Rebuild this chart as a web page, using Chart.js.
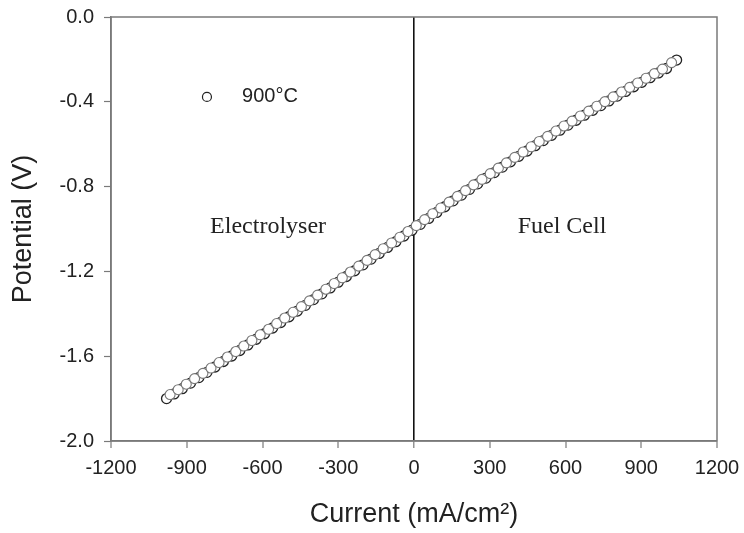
<!DOCTYPE html>
<html>
<head>
<meta charset="utf-8">
<script src="https://cdn.jsdelivr.net/npm/chart.js@4/dist/chart.umd.min.js"></script>
<style>
  html, body { margin: 0; padding: 0; background: #fff; }
  #wrap { width: 744px; height: 533px; position: relative; }
</style>
</head>
<body>
<div id="wrap"><canvas id="iv-chart"></canvas></div>
<script>
// current density (mA/cm2) and cell potential (V)
// sweep 1 (dark circles)
const current = [-980, -950, -918, -885, -852, -820, -788, -755, -722, -690, -658, -625, -592, -560, -528, -495, -462, -430, -398, -365, -332, -300, -268, -235, -202, -170, -138, -105, -72, -40, -8,
    25, 58, 90, 122, 155, 188, 220, 252, 285, 318, 350, 382, 415, 448, 480, 512, 545, 578, 610, 642, 675, 708, 740, 772, 805, 838, 870, 902, 935, 968, 1000, 1040];
const potential = [-1.800, -1.778, -1.753, -1.727, -1.701, -1.676, -1.651, -1.625, -1.599, -1.573, -1.547, -1.520, -1.494, -1.467, -1.441, -1.414, -1.387, -1.360, -1.333, -1.306, -1.278, -1.251, -1.224, -1.197, -1.169, -1.142, -1.115, -1.087, -1.060, -1.033, -1.006,
    -0.978, -0.950, -0.922, -0.895, -0.867, -0.840, -0.813, -0.787, -0.760, -0.734, -0.708, -0.683, -0.657, -0.632, -0.607, -0.583, -0.558, -0.534, -0.510, -0.487, -0.463, -0.440, -0.418, -0.396, -0.373, -0.351, -0.329, -0.308, -0.286, -0.264, -0.243, -0.203];
// sweep 2 (the fainter circles peeking out behind)
const current2 = [-966, -934, -902, -869, -836, -804, -772, -739, -706, -674, -642, -609, -576, -544, -512, -479, -446, -414, -382, -349, -316, -284, -252, -219, -186, -154, -122, -89, -56, -24,
    9, 42, 74, 106, 139, 172, 204, 236, 269, 302, 334, 366, 399, 432, 464, 496, 529, 562, 594, 626, 659, 692, 724, 756, 789, 822, 854, 886, 919, 952, 984, 1020];
const potential2 = [-1.781, -1.758, -1.732, -1.706, -1.681, -1.656, -1.630, -1.604, -1.578, -1.552, -1.526, -1.499, -1.473, -1.446, -1.420, -1.393, -1.366, -1.339, -1.312, -1.284, -1.257, -1.230, -1.203, -1.175, -1.148, -1.121, -1.093, -1.066, -1.039, -1.012,
    -0.984, -0.956, -0.928, -0.901, -0.873, -0.846, -0.819, -0.792, -0.766, -0.739, -0.713, -0.688, -0.662, -0.637, -0.612, -0.587, -0.563, -0.538, -0.514, -0.491, -0.467, -0.444, -0.421, -0.399, -0.377, -0.354, -0.332, -0.311, -0.289, -0.267, -0.246, -0.215];
const seriesLabel = "900°C";
const xTitle = "Current (mA/cm²)";
const yTitle = "Potential (V)";

const points = current.map((c, i) => ({x: c, y: potential[i]}));
const points2 = current2.map((c, i) => ({x: c, y: potential2[i]}));

const axisGrey = "#7a7a7a";
const textDark = "#222";
const sans = "'Liberation Sans', Arial, sans-serif";

// box round the plot, region labels and the little legend
const decorations = {
    id: "decorations",
    afterDatasetsDraw(chart) {
        const {ctx, chartArea: a, scales: {x, y}} = chart;
        ctx.save();
        ctx.strokeStyle = axisGrey;
        ctx.lineWidth = 1.5;
        ctx.strokeRect(a.left, a.top, a.right - a.left, a.bottom - a.top);

        ctx.fillStyle = textDark;
        ctx.textBaseline = "middle";
        ctx.textAlign = "center";
        ctx.font = "24px 'Liberation Serif', 'Times New Roman', serif";
        ctx.fillText("Electrolyser", x.getPixelForValue(-578), y.getPixelForValue(-0.99));
        ctx.fillText("Fuel Cell", x.getPixelForValue(586), y.getPixelForValue(-0.99));

        // legend
        const lx = x.getPixelForValue(-820), ly = y.getPixelForValue(-0.377);
        ctx.beginPath();
        ctx.arc(lx, ly, 4.5, 0, Math.PI * 2);
        ctx.fillStyle = "#fff";
        ctx.fill();
        ctx.strokeStyle = textDark;
        ctx.lineWidth = 1.2;
        ctx.stroke();
        ctx.fillStyle = textDark;
        ctx.textAlign = "left";
        ctx.font = "20px " + sans;
        ctx.fillText(seriesLabel, x.getPixelForValue(-681), ly);
        ctx.restore();
    }
};

new Chart(document.getElementById("iv-chart"), {
    type: "scatter",
    data: {
        datasets: [
            {
                label: seriesLabel + " b",
                data: points2,
                pointRadius: 5,
                pointBorderWidth: 1.1,
                pointBackgroundColor: "#fff",
                pointBorderColor: "#777",
            },
            {
                label: seriesLabel,
                data: points,
                pointRadius: 5,
                pointBorderWidth: 1.3,
                pointBackgroundColor: "#fff",
                pointBorderColor: "#222",
            },
        ]
    },
    options: {
        responsive: true,
        maintainAspectRatio: false,
        animation: false,
        layout: {
            padding: {top: 17, right: 27, left: 0, bottom: 0}
        },
        plugins: {
            legend: {display: false},
            tooltip: {enabled: false}
        },
        scales: {
            x: {
                type: "linear",
                min: -1200,
                max: 1200,
                afterFit: (s) => { s.height = 92; s.paddingLeft = 0; s.paddingRight = 0; },
                ticks: {
                    stepSize: 300,
                    color: textDark,
                    padding: 8,
                    callback: (v) => String(v),
                    font: {family: sans, size: 20}
                },
                grid: {
                    drawOnChartArea: true,
                    color: (c) => (c.tick && c.tick.value === 0 ? "#111" : "rgba(0,0,0,0)"),
                    lineWidth: (c) => (c.tick && c.tick.value === 0 ? 1.6 : 0),
                    tickColor: axisGrey,
                    tickLength: 7,
                    tickWidth: 1.2
                },
                border: {display: true, color: axisGrey, width: 1.5},
                title: {
                    display: true,
                    text: xTitle,
                    color: textDark,
                    padding: {top: 0, bottom: 2},
                    font: {family: sans, size: 27}
                }
            },
            y: {
                type: "linear",
                min: -2,
                max: 0,
                afterFit: (s) => { s.width = 111; s.paddingTop = 0; s.paddingBottom = 0; },
                ticks: {
                    stepSize: 0.4,
                    color: textDark,
                    padding: 10,
                    callback: (v) => v.toFixed(1),
                    font: {family: sans, size: 20}
                },
                grid: {
                    drawOnChartArea: false,
                    tickColor: axisGrey,
                    tickLength: 7,
                    tickWidth: 1.2
                },
                border: {display: true, color: axisGrey, width: 1.5},
                title: {
                    display: true,
                    text: yTitle,
                    color: textDark,
                    padding: {top: 7, bottom: 0},
                    font: {family: sans, size: 27}
                }
            }
        }
    },
    plugins: [decorations]
});
</script>
</body>
</html>
